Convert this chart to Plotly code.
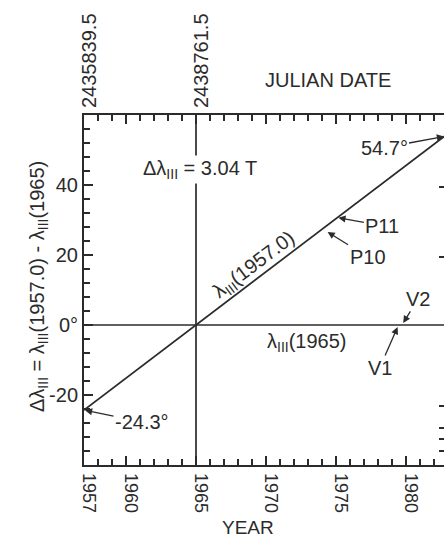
import numpy as np
import plotly.graph_objects as go

# ---- data ----
years_line = [1957, 1983]            # lambda_III(1957.0) relation endpoints
delta_lambda = [-24.3, 54.7]         # degrees
ref_years = [1957, 1983]             # lambda_III(1965) reference (zero line)
ref_values = [0, 0]
epoch_year = [1965, 1965]
epoch_span = [-40, 60]

year_ticks = [1957, 1960, 1965, 1970, 1975, 1980]
year_labels = ["1957", "1960", "1965", "1970", "1975", "1980"]
jd_ticks = [1957, 1965]
jd_labels = ["2435839.5", "2438761.5"]
y_ticks = [-20, 0, 20, 40]
y_labels = ["-20", "0°", "20", "40"]
right_ticks = [39.5, 19.5, -23, -29.5, -32.5, -36]

P11_year, P10_year = 1975.1, 1974.4
V_years = [1979.4, 1979.8]

# ---- layout geometry ----
W, H = 444, 537
L, R, T, B = 84, 0, 115, 72
X0 = 1957
XR = X0 + (W - L - R) / 14.0
INK = "#2b2b2b"
FONT = "Liberation Sans"

def on_line(yr):
    return float(np.interp(yr, years_line, delta_lambda))

def px(x):  # pixel x -> paper
    return (x - L) / (W - L - R)

def py(y):  # pixel y -> paper
    return (H - B - y) / (H - T - B)

fig = go.Figure()
line_style = dict(color=INK, width=1.7)
fig.add_trace(go.Scatter(x=years_line, y=delta_lambda, mode="lines", line=line_style,
                         hoverinfo="skip", showlegend=False))
fig.add_trace(go.Scatter(x=ref_years, y=ref_values, mode="lines", line=line_style,
                         hoverinfo="skip", showlegend=False))
fig.add_trace(go.Scatter(x=epoch_year, y=epoch_span, mode="lines", line=line_style,
                         hoverinfo="skip", showlegend=False))
fig.add_trace(go.Scatter(x=years_line, y=[0, 0], yaxis="y2", mode="markers",
                         marker=dict(opacity=0), hoverinfo="skip", showlegend=False))

fig.update_layout(
    width=W, height=H,
    margin=dict(l=L, r=R, t=T, b=B),
    paper_bgcolor="white", plot_bgcolor="white",
    font=dict(family=FONT, size=20, color=INK),
    xaxis=dict(range=[X0, XR], showgrid=False, zeroline=False,
               showline=True, linecolor=INK, linewidth=2, mirror="ticks",
               tickmode="array", tickvals=year_ticks, showticklabels=False,
               ticks="inside", ticklen=9, tickwidth=1.5, tickcolor=INK,
               minor=dict(tickmode="linear", tick0=1957, dtick=1, ticks="inside",
                          ticklen=6, tickwidth=1.5, tickcolor=INK, showgrid=False)),
    yaxis=dict(range=[-40, 60], showgrid=False, zeroline=False,
               showline=True, linecolor=INK, linewidth=2,
               tickmode="array", tickvals=y_ticks, ticktext=y_labels,
               ticks="inside", ticklen=9, tickwidth=1.5, tickcolor=INK,
               tickfont=dict(family=FONT, size=20, color=INK),
               minor=dict(tickmode="linear", tick0=-40, dtick=4, ticks="inside",
                          ticklen=6, tickwidth=1.5, tickcolor=INK, showgrid=False)),
    yaxis2=dict(overlaying="y", side="right", matches="y", showgrid=False, zeroline=False,
                showline=False, tickmode="array", tickvals=right_ticks,
                ticks="inside", ticklen=5, tickwidth=1.5, tickcolor=INK,
                showticklabels=False),
)

ann = []
def add(**kw):
    base = dict(showarrow=False, xanchor="center", yanchor="middle",
                font=dict(family=FONT, size=20, color=INK))
    base.update(kw)
    ann.append(base)

arrow = dict(showarrow=True, arrowhead=2, arrowsize=1.1, arrowwidth=1.3, arrowcolor=INK)

# tick labels (rotated) along bottom (years) and top (Julian dates)
for v, t in zip(year_ticks, year_labels):
    add(text=t, x=v, xref="x", yref="paper", y=py(493), textangle=90, xshift=5,
        font=dict(family=FONT, size=18, color=INK))
for v, t in zip(jd_ticks, jd_labels):
    add(text=t, x=v, xref="x", yref="paper", y=py(61), textangle=-90, xshift=5,
        font=dict(family=FONT, size=20, color=INK))

# axis titles
add(text="JULIAN DATE", xref="paper", yref="paper", x=px(328), y=py(80))
add(text="YEAR", xref="paper", yref="paper", x=px(248), y=py(527),
    font=dict(family=FONT, size=19, color=INK))
add(text="Δλ<sub>III</sub> = λ<sub>III</sub>(1957.0) - λ<sub>III</sub>(1965)",
    xref="paper", yref="paper", x=px(38), y=py(287), textangle=-90)

# in-plot labels
add(text="Δλ<sub>III</sub> = 3.04 T", x=1965.25, y=44.3, bgcolor="white", borderpad=1)
add(text="λ<sub>III</sub>(1957.0)", x=1969.14, y=17.1, textangle=-37)
add(text="λ<sub>III</sub>(1965)", x=1972.86, y=-5.1)

add(text="54.7°", x=XR, y=on_line(XR), ax=-60, ay=11, standoff=0, **arrow)
add(text="-24.3°", x=years_line[0], y=delta_lambda[0], ax=58, ay=12, standoff=1, **arrow)
add(text="P11", x=P11_year, y=on_line(P11_year), ax=45, ay=8, standoff=1, **arrow)
add(text="P10", x=P10_year, y=on_line(P10_year) - 2.0, ax=40, ay=25, standoff=0, **arrow)
add(text="V1", x=V_years[0], y=-0.6, ax=-18, ay=41, standoff=0, **arrow)
add(text="V2", x=V_years[1], y=0.6, ax=15, ay=-24, standoff=0, **arrow)

fig.update_layout(annotations=ann)
fig.write_html("out.html", config={"displayModeBar": False},
               post_script="document.body.style.margin='0';document.body.style.overflow='hidden';")
